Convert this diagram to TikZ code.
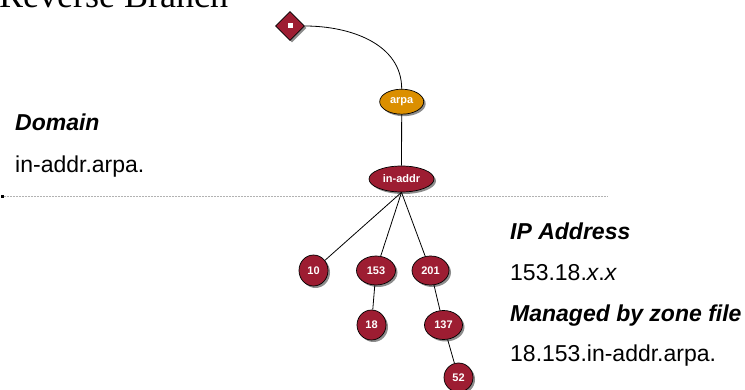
\documentclass[tikz,border=0pt]{standalone}
\usepackage{fontspec}
\setmainfont{Liberation Serif}
\setsansfont{Liberation Sans}
\usetikzlibrary{shapes.geometric,shadows}
\definecolor{zonered}{RGB}{157,29,50}
\definecolor{tldorange}{RGB}{219,143,0}
\tikzset{x=1pt, y=-1pt, % Coordinates follow the pixels of the slide
        zone/.style={ % Sets the properties for each zone node
            ellipse, draw=black, line width=0.7pt,
            fill=zonered, text=white, inner sep=0pt,
            font=\sffamily\bfseries\fontsize{11}{13}\selectfont,
            drop shadow={shadow xshift=2pt, shadow yshift=-2pt, fill=black!45, opacity=1}},
        tld/.style={ % Top level domain gets a different colour
            zone, fill=tldorange},
        root/.style={ % Diamond for the root of the tree
            diamond, draw=black, line width=0.7pt, fill=zonered,
            minimum width=29pt, minimum height=29pt, inner sep=0pt,
            drop shadow={shadow xshift=2pt, shadow yshift=-2pt, fill=black!45, opacity=1}},
        infohead/.style={ % Headings beside the tree
            anchor=base west, inner sep=0pt,
            font=\sffamily\bfseries\itshape\fontsize{23}{27}\selectfont},
        infotext/.style={ % Values below the headings
            anchor=base west, inner sep=0pt,
            font=\sffamily\fontsize{23}{27}\selectfont},
        every edge/.style={ % Sets the properties for each branch
            draw, line width=0.8pt}
        }

\begin{document}
\begin{tikzpicture}
    \useasboundingbox (0,0) rectangle (745,390);

    \node[anchor=base west, inner sep=0pt, font=\fontsize{36}{40}\selectfont] (title) at (-1,8) {Reverse Branch};

    \node[root] (dot) at (290,26) {};
    \node[fill=white, minimum size=5pt, inner sep=0pt] (hole) at (dot.center) {};
    \node[tld, minimum width=44pt, minimum height=25pt] (arpa) at (401.7,101.7) {arpa};
    \node[zone, minimum width=65pt, minimum height=26pt] (inaddr) at (401.5,179) {in-addr};
    \node[zone, minimum width=29pt, minimum height=31pt] (n10) at (313.5,270.5) {10};
    \node[zone, minimum width=39pt, minimum height=29pt] (n153) at (376,270.5) {153};
    \node[zone, minimum width=37pt, minimum height=29pt] (n201) at (430.5,270.5) {201};
    \node[zone, minimum width=29pt, minimum height=30pt] (n18) at (371.5,325) {18};
    \node[zone, minimum width=38pt, minimum height=29pt] (n137) at (443.5,325) {137};
    \node[zone, minimum width=29pt, minimum height=29pt] (n52) at (458.5,377.5) {52};

    % dotted divider
    \node[fill=black, minimum size=3pt, inner sep=0pt] (lead) at (2,196.7) {};
    \coordinate (leadend) at (608,196.7);
    \draw[black!30, dash pattern=on 2pt off 1pt, line width=0.8pt] (lead) -- (leadend);

    \draw
        (dot)
            edge [out=0, in=90] (arpa)
        (arpa)
            edge (inaddr)
        (inaddr.south)
            edge (n10)
            edge (n153)
            edge (n201)
        (n153)
            edge (n18)
        (n201)
            edge (n137)
        (n137)
            edge (n52);

    \node[infohead] (domhead) at (15,131) {Domain};
    \node[infotext] (domtext) at (15,172.7) {in-addr.arpa.};
    \node[infohead] (iphead) at (510,240) {IP Address};
    \node[infotext] (iptext) at (510,281) {153.18.\textit{x}.\textit{x}};
    \node[infohead] (zonehead) at (510,321.7) {Managed by zone file};
    \node[infotext] (zonetext) at (510,362) {18.153.in-addr.arpa.};
\end{tikzpicture}
\end{document}
